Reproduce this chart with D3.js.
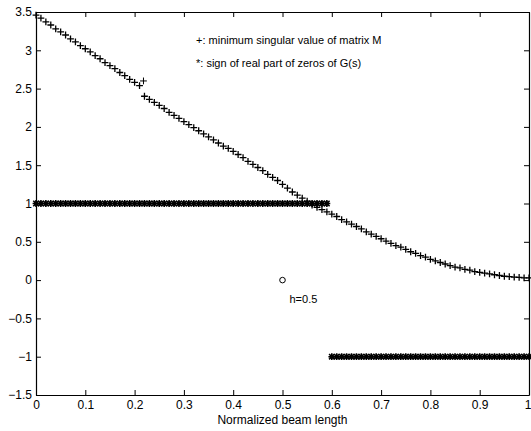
<!DOCTYPE html>
<html>
<head>
<meta charset="utf-8">
<script src="https://cdn.jsdelivr.net/npm/d3@7/dist/d3.min.js"></script>
<style>
html,body{margin:0;padding:0;background:#fff;}
svg{display:block;font-family:"Liberation Sans",Arial,Helvetica,sans-serif;}
</style>
</head>
<body>
<svg id="chart" width="531" height="431"></svg>
<script>
// ---- data ----
const beamLength = [0.00,0.01,0.02,0.03,0.04,0.05,0.06,0.07,0.08,0.09,
  0.10,0.11,0.12,0.13,0.14,0.15,0.16,0.17,0.18,0.19,
  0.20,0.21,0.22,0.23,0.24,0.25,0.26,0.27,0.28,0.29,
  0.30,0.31,0.32,0.33,0.34,0.35,0.36,0.37,0.38,0.39,
  0.40,0.41,0.42,0.43,0.44,0.45,0.46,0.47,0.48,0.49,
  0.50,0.51,0.52,0.53,0.54,0.55,0.56,0.57,0.58,0.59,
  0.60,0.61,0.62,0.63,0.64,0.65,0.66,0.67,0.68,0.69,
  0.70,0.71,0.72,0.73,0.74,0.75,0.76,0.77,0.78,0.79,
  0.80,0.81,0.82,0.83,0.84,0.85,0.86,0.87,0.88,0.89,
  0.90,0.91,0.92,0.93,0.94,0.95,0.96,0.97,0.98,0.99,1.00];
const minSingularValue = [3.46,3.42,3.37,3.33,3.28,3.24,3.20,3.15,3.11,3.06,
  3.02,2.98,2.93,2.89,2.84,2.80,2.76,2.71,2.67,2.62,
  2.58,2.54,2.40,2.36,2.32,2.28,2.24,2.19,2.15,2.11,
  2.07,2.03,1.99,1.95,1.91,1.87,1.83,1.79,1.75,1.72,
  1.68,1.64,1.60,1.55,1.51,1.47,1.43,1.38,1.34,1.30,
  1.25,1.20,1.15,1.11,1.07,1.03,0.98,0.95,0.92,0.89,
  0.86,0.83,0.79,0.76,0.73,0.70,0.67,0.63,0.60,0.57,
  0.54,0.51,0.48,0.45,0.43,0.40,0.37,0.35,0.32,0.30,
  0.27,0.25,0.23,0.21,0.19,0.17,0.16,0.14,0.13,0.11,
  0.10,0.09,0.08,0.07,0.06,0.05,0.045,0.04,0.035,0.03,0.03];
const signRealZeros = [1,1,1,1,1,1,1,1,1,1,
  1,1,1,1,1,1,1,1,1,1,
  1,1,1,1,1,1,1,1,1,1,
  1,1,1,1,1,1,1,1,1,1,
  1,1,1,1,1,1,1,1,1,1,
  1,1,1,1,1,1,1,1,1,1,
  -1,-1,-1,-1,-1,-1,-1,-1,-1,-1,
  -1,-1,-1,-1,-1,-1,-1,-1,-1,-1,
  -1,-1,-1,-1,-1,-1,-1,-1,-1,-1,
  -1,-1,-1,-1,-1,-1,-1,-1,-1,-1,-1];
const outlierX = [0.218];
const outlierY = [2.60];
const circleX = [0.5];
const circleY = [0.0];
const xTicks = [0,0.1,0.2,0.3,0.4,0.5,0.6,0.7,0.8,0.9,1];
const xTickLabels = ["0","0.1","0.2","0.3","0.4","0.5","0.6","0.7","0.8","0.9","1"];
const yTicks = [-1.5,-1,-0.5,0,0.5,1,1.5,2,2.5,3,3.5];
const yTickLabels = ["\u22121.5","\u22121","\u22120.5","0","0.5","1","1.5","2","2.5","3","3.5"];
const legendLines = ["+: minimum singular value of matrix M", "*: sign of real part of zeros of G(s)"];
const annotation = "h=0.5";
const xTitle = "Normalized beam length";

// ---- layout ----
const mL = 36, mR = 529, mT = 12, mB = 395;
const svg = d3.select("#chart");
const x = d3.scaleLinear().domain([0,1]).range([mL,mR]);
const y = d3.scaleLinear().domain([-1.5,3.5]).range([mB,mT]);

// sign markers (*)
const s = 3.4;
svg.append("g").selectAll("path").data(beamLength.map((d,i)=>[d,signRealZeros[i]]))
  .join("path")
  .attr("d", d => {
    const cx = x(d[0]), cy = y(d[1]);
    const k = s*0.8;
    return `M${cx-s},${cy}H${cx+s}M${cx},${cy-s}V${cy+s}M${cx-k},${cy-k}L${cx+k},${cy+k}M${cx-k},${cy+k}L${cx+k},${cy-k}`;
  })
  .attr("stroke","#000").attr("stroke-width",1.6).attr("fill","none");

// min singular value markers (+)
const p = 3.4;
const plus = d => {
  const cx = x(d[0]), cy = y(d[1]);
  return `M${cx-p},${cy}H${cx+p}M${cx},${cy-p}V${cy+p}`;
};
svg.append("g").selectAll("path").data(beamLength.map((d,i)=>[d,minSingularValue[i]]))
  .join("path").attr("d", plus)
  .attr("stroke","#000").attr("stroke-width",1.3).attr("fill","none");
svg.append("g").selectAll("path").data(outlierX.map((d,i)=>[d,outlierY[i]]))
  .join("path").attr("d", plus)
  .attr("stroke","#000").attr("stroke-width",1).attr("fill","none");

// circle at h
svg.append("g").selectAll("circle").data(circleX.map((d,i)=>[d,circleY[i]]))
  .join("circle").attr("cx",d=>x(d[0])).attr("cy",d=>y(d[1])).attr("r",2.8)
  .attr("fill","none").attr("stroke","#000").attr("stroke-width",1);

// axes (box with inward ticks)
const tl = 5;
const axB = d3.axisBottom(x).tickValues(xTicks).tickFormat((d,i)=>xTickLabels[i]).tickSizeInner(-tl).tickSizeOuter(0).tickPadding(5);
const axT = d3.axisTop(x).tickValues(xTicks).tickFormat("").tickSizeInner(-tl).tickSizeOuter(0);
const axL = d3.axisLeft(y).tickValues(yTicks).tickFormat((d,i)=>yTickLabels[i]).tickSizeInner(-tl).tickSizeOuter(0).tickPadding(4);
const axR = d3.axisRight(y).tickValues(yTicks).tickFormat("").tickSizeInner(-tl).tickSizeOuter(0);

const styleAxis = g => {
  g.selectAll("path.domain").attr("stroke","#000").attr("stroke-width",1.2);
  g.selectAll("line").attr("stroke","#000").attr("stroke-width",1);
  g.selectAll("text").attr("fill","#000").style("font-size","12px").style("font-family","'Liberation Sans',Arial,sans-serif");
};
const gB = svg.append("g").attr("transform",`translate(0,${mB})`).call(axB).call(styleAxis);
gB.selectAll("g.tick").filter(d => d === 1).select("text").attr("text-anchor","end").attr("x", 2);
svg.append("g").attr("transform",`translate(0,${mT})`).call(axT).call(styleAxis);
svg.append("g").attr("transform",`translate(${mL},0)`).call(axL).call(styleAxis);
svg.append("g").attr("transform",`translate(${mR},0)`).call(axR).call(styleAxis);

// legend text
svg.append("g").selectAll("text").data(legendLines).join("text")
  .attr("x", 196).attr("y",(d,i)=> 44 + i*23)
  .style("font-size","11px").attr("fill","#000").text(d=>d);

// annotation
svg.append("text").attr("x", x(0.5)+7).attr("y", y(0)+23)
  .style("font-size","11px").attr("fill","#000").text(annotation);

// x title
svg.append("text").attr("x", x(0.5)).attr("y", 424).attr("text-anchor","middle")
  .style("font-size","12px").attr("fill","#000").text(xTitle);
</script>
</body>
</html>
